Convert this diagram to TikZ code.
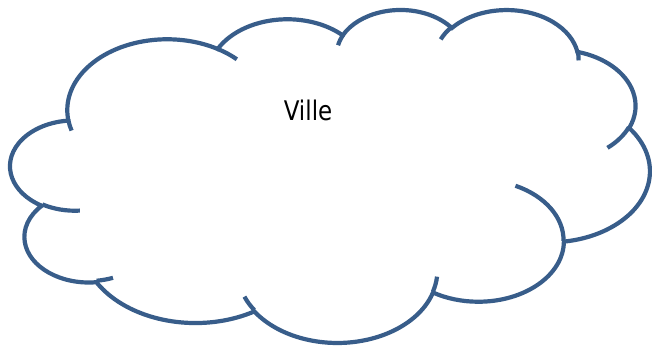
\documentclass[tikz,border=0pt]{standalone}
\usepackage{fontspec}
\setmainfont{DejaVu Sans}
\definecolor{cloudblue}{RGB}{56,93,138}
\begin{document}
\begin{tikzpicture}[
  declare function={vpa(\vth,\vrx,\vry)=\vth+Mod(atan2(\vrx*sin(\vth),\vry*cos(\vth))-\vth+180,360)-180;},
  cloudline/.style={draw=cloudblue, line width=4.2pt},
  labeltext/.style={font=\fontsize{27}{30}\selectfont, inner sep=0pt, xscale=0.85},
]
\useasboundingbox (0,0) rectangle (652pt,-347pt);
\begin{scope}[shift={(10.5pt,-8.9pt)}, x=1.4795pt, y=-0.7705pt]
% outer outline
\path[cloudline, fill=white] (39.00,143.70)
  arc[start angle={vpa(-190.48748,67.53,91.90)}, end angle={vpa(-66.70695,67.53,91.90)}, x radius=67.53, y radius=91.90]
  arc[start angle={vpa(-144.10238,53.33,72.67)}, end angle={vpa(-54.15715,53.33,72.67)}, x radius=53.33, y radius=72.67]
  arc[start angle={vpa(-145.80792,43.65,59.45)}, end angle={vpa(-46.08490,43.65,59.45)}, x radius=43.65, y radius=59.45]
  arc[start angle={vpa(-130.98607,48.57,65.95)}, end angle={vpa(-13.74434,48.57,65.95)}, x radius=48.57, y radius=65.95]
  arc[start angle={vpa(-78.70888,53.33,72.73)}, end angle={vpa(30.31804,53.33,72.73)}, x radius=53.33, y radius=72.73]
  arc[start angle={vpa(-46.26725,67.75,92.20)}, end angle={vpa(84.00175,67.75,92.20)}, x radius=67.75, y radius=92.20]
  arc[start angle={vpa(0.62502,57.85,78.67)}, end angle={vpa(114.65835,57.85,78.67)}, x radius=57.85, y radius=78.67]
  arc[start angle={vpa(22.45160,67.52,92.15)}, end angle={vpa(137.62415,67.52,92.15)}, x radius=67.52, y radius=92.15]
  arc[start angle={vpa(66.24263,77.20,105.43)}, end angle={vpa(141.95365,77.20,105.43)}, x radius=77.20, y radius=105.43]
  arc[start angle={vpa(-274.94208,43.60,59.18)}, end angle={vpa(-128.20651,43.60,59.18)}, x radius=43.60, y radius=59.18]
  arc[start angle={vpa(-246.82850,43.45,59.45)}, end angle={vpa(-94.30965,43.45,59.45)}, x radius=43.45, y radius=59.45]
  -- cycle;
% inner lines
\coordinate (i1) at (46.93,261.77);
\coordinate (i2) at (69.28,348.99);
\coordinate (i3) at (164.78,390.90);
\coordinate (i4) at (288.27,347.51);
\coordinate (i5) at (341.29,229.54);
\coordinate (i6) at (417.98,153.54);
\coordinate (i7) at (383.24,54.26);
\coordinate (i8) at (290.78,39.52);
\coordinate (i9) at (221.41,47.20);
\coordinate (i10) at (140.00,51.92);
\coordinate (i11) at (41.27,157.89);
\draw[cloudline] (i1) arc[start angle={vpa(86.74200,43.45,59.45)}, end angle={vpa(113.17150,43.45,59.45)}, x radius=43.45, y radius=59.45];
\draw[cloudline] (i2) arc[start angle={vpa(73.61047,43.60,59.18)}, end angle={vpa(85.05794,43.60,59.18)}, x radius=43.60, y radius=59.18];
\draw[cloudline] (i3) arc[start angle={vpa(137.62415,67.52,92.15)}, end angle={vpa(151.70525,67.52,92.15)}, x radius=67.52, y radius=92.15];
\draw[cloudline] (i4) arc[start angle={vpa(6.45327,67.52,92.15)}, end angle={vpa(22.45162,67.52,92.15)}, x radius=67.52, y radius=92.15];
\draw[cloudline] (i5) arc[start angle={vpa(-70.29235,57.85,78.67)}, end angle={vpa(0.62502,57.85,78.67)}, x radius=57.85, y radius=78.67];
\draw[cloudline] (i6) arc[start angle={vpa(30.31803,53.33,72.73)}, end angle={vpa(58.06953,53.33,72.73)}, x radius=53.33, y radius=72.73];
\draw[cloudline] (i7) arc[start angle={vpa(-13.74433,48.57,65.95)}, end angle={vpa(1.11457,48.57,65.95)}, x radius=48.57, y radius=65.95];
\draw[cloudline] (i8) arc[start angle={vpa(-149.18145,48.57,65.95)}, end angle={vpa(-130.98608,48.57,65.95)}, x radius=48.57, y radius=65.95];
\draw[cloudline] (i9) arc[start angle={vpa(-163.49427,43.65,59.45)}, end angle={vpa(-145.80792,43.65,59.45)}, x radius=43.65, y radius=59.45];
\draw[cloudline] (i10) arc[start angle={vpa(-66.70695,67.53,91.90)}, end angle={vpa(-54.38760,67.53,91.90)}, x radius=67.53, y radius=91.90];
\draw[cloudline] (i11) arc[start angle={vpa(157.65435,67.53,91.90)}, end angle={vpa(169.51252,67.53,91.90)}, x radius=67.53, y radius=91.90];
\end{scope}
\node[labeltext, anchor=base] (ville) at (308pt,-121pt) {Ville};
\end{tikzpicture}
\end{document}
